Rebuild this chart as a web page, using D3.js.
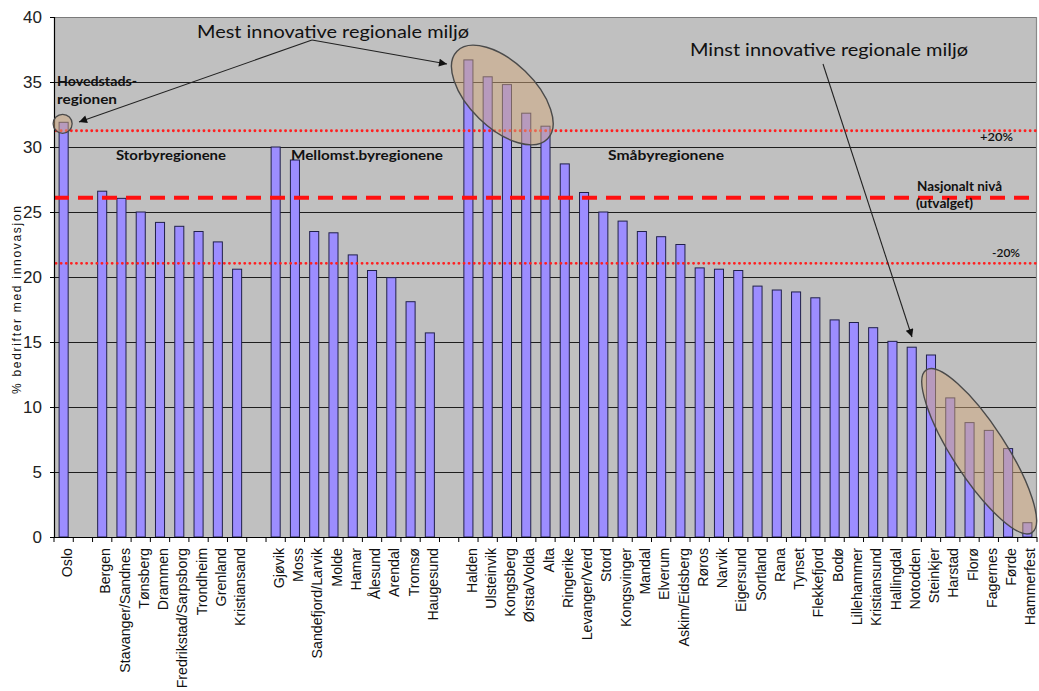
<!DOCTYPE html>
<html><head><meta charset="utf-8">
<script src="https://cdn.jsdelivr.net/npm/d3@7"></script>
<style>body{margin:0;background:#fff}svg{display:block}</style>
</head><body><svg id="c" width="1039" height="691"></svg>
<script>
// ---- DATA ----
const hovedstadNames = ["Oslo"];
const hovedstadValues = [31.9];
const storbyNames = ["Bergen","Stavanger/Sandnes","Tønsberg","Drammen","Fredrikstad/Sarpsborg","Trondheim","Grenland","Kristiansand"];
const storbyValues = [26.6,26.05,25.0,24.2,23.9,23.5,22.7,20.6];
const mellombyNames = ["Gjøvik","Moss","Sandefjord/Larvik","Molde","Hamar","Ålesund","Arendal","Tromsø","Haugesund"];
const mellombyValues = [30.0,29.0,23.5,23.4,21.7,20.5,19.95,18.1,15.7];
const smaabyNames = ["Halden","Ulsteinvik","Kongsberg","Ørsta/Volda","Alta","Ringerike","Levanger/Verd","Stord","Kongsvinger","Mandal","Elverum","Askim/Eidsberg","Røros","Narvik","Eigersund","Sortland","Rana","Tynset","Flekkefjord","Bodø","Lillehammer","Kristiansund","Hallingdal","Notodden","Steinkjer","Harstad","Florø","Fagernes","Førde","Hammerfest"];
const smaabyValues = [36.7,35.4,34.8,32.6,31.6,28.7,26.5,25.0,24.3,23.5,23.1,22.5,20.7,20.6,20.5,19.3,19.0,18.85,18.4,16.7,16.5,16.1,15.05,14.6,14.0,10.7,8.8,8.2,6.8,1.1];
const yTicks = [0,5,10,15,20,25,30,35,40];
const nationalLevel = 26.1;
const upperLevel = 31.25;   // +20%
const lowerLevel = 21.05;   // -20%
const yTitle = "% bedrifter med innovasjon";

// ---- build slots (with empty gap slots between groups) ----
const groups = [
  [hovedstadNames, hovedstadValues],
  [storbyNames, storbyValues],
  [mellombyNames, mellombyValues],
  [smaabyNames, smaabyValues]
];
const slots = [];
groups.forEach((g, gi) => {
  if (gi > 0) slots.push({key: "gap" + gi, label: "", value: null});
  g[0].forEach((n, i) => slots.push({key: n, label: n, value: g[1][i]}));
});

const svg = d3.select("#c");
const L = 54, R = 1037, B = 537, T = 17;
const x = d3.scaleBand().domain(slots.map(d => d.key)).range([L, R]).paddingInner(0.53).paddingOuter(0.265);
const y = d3.scaleLinear().domain([0, 40]).range([B, T]);
const xc = k => x(k) + x.bandwidth() / 2;

// plot background
svg.append("rect").attr("x", L).attr("y", y(40)).attr("width", R - L).attr("height", y(0) - y(40)).attr("fill", "#c0c0c0");
// gridlines
svg.append("g").selectAll("line").data(yTicks.filter(t => t > 0 && t < 40)).join("line")
  .attr("x1", L).attr("x2", R).attr("y1", d => Math.round(y(d)) + 0.5).attr("y2", d => Math.round(y(d)) + 0.5)
  .attr("stroke", "#1e1e1e").attr("stroke-width", 1);
// top & right border
svg.append("line").attr("x1", L).attr("x2", R).attr("y1", Math.round(y(40)) + 0.5).attr("y2", Math.round(y(40)) + 0.5).attr("stroke", "#7a7a7a").attr("stroke-width", 1.2);
svg.append("line").attr("x1", R - 0.5).attr("x2", R - 0.5).attr("y1", y(40)).attr("y2", y(0)).attr("stroke", "#8a8a8a").attr("stroke-width", 1.2);

// bars
svg.append("g").selectAll("rect").data(slots.filter(d => d.value !== null)).join("rect")
  .attr("x", d => x(d.key)).attr("width", x.bandwidth())
  .attr("y", d => y(d.value)).attr("height", d => y(0) - y(d.value))
  .attr("fill", "#9c8dff").attr("stroke", "#20204a").attr("stroke-width", 1);

// reference lines
svg.append("line").attr("x1", L).attr("x2", R).attr("y1", y(nationalLevel)).attr("y2", y(nationalLevel))
  .attr("stroke", "#ff1010").attr("stroke-width", 4).attr("stroke-dasharray", "15,9");
[upperLevel, lowerLevel].forEach(v => {
  svg.append("line").attr("x1", L + 2).attr("x2", R).attr("y1", y(v)).attr("y2", y(v))
    .attr("stroke", "#ff2020").attr("stroke-width", 2.8).attr("stroke-linecap", "round").attr("stroke-dasharray", "0.1,5");
});

// axes
const yAxis = d3.axisLeft(y).tickValues(yTicks).tickSize(4).tickPadding(8);
const gy = svg.append("g").attr("transform", `translate(${L},0)`).call(yAxis);
gy.select(".domain").attr("stroke", "#000").attr("stroke-width", 1.2);
gy.selectAll(".tick line").attr("stroke", "#000");
gy.selectAll(".tick text").attr("font-family", "'Liberation Sans Narrow','Arial Narrow','Liberation Sans',Arial,sans-serif")
  .attr("font-size", 17).attr("fill", "#222");

// x axis line and ticks at slot boundaries
svg.append("line").attr("x1", L).attr("x2", R).attr("y1", B + 0.5).attr("y2", B + 0.5).attr("stroke", "#000").attr("stroke-width", 1.2);
const step = x.step();
svg.append("g").selectAll("line").data(d3.range(slots.length + 1)).join("line")
  .attr("x1", i => L + i * step).attr("x2", i => L + i * step)
  .attr("y1", B).attr("y2", B + 5).attr("stroke", "#000");

// x labels
svg.append("g").selectAll("text").data(slots.filter(d => d.label)).join("text")
  .attr("transform", d => `translate(${xc(d.key) + 3},${B + 11}) rotate(-90)`)
  .attr("text-anchor", "end").attr("dy", "0.36em")
  .attr("font-family", "'Liberation Sans',Arial,sans-serif").attr("font-size", 14.2)
  .attr("fill", "#111")
  .text(d => d.label);

// y title
svg.append("text").attr("transform", `translate(17,300) rotate(-90)`)
  .attr("text-anchor", "middle").attr("dy", "0.35em")
  .attr("font-family", "'Liberation Sans',Arial,sans-serif").attr("font-size", 12)
  .attr("textLength", 188).attr("lengthAdjust", "spacing").attr("fill", "#111")
  .text(yTitle);

// ---- annotations ----
const defs = svg.append("defs");
defs.append("marker").attr("id", "ah").attr("viewBox", "0 0 10 10").attr("refX", 10).attr("refY", 5)
  .attr("markerWidth", 11).attr("markerHeight", 8).attr("markerUnits", "userSpaceOnUse").attr("orient", "auto")
  .append("path").attr("d", "M0,0 L10,5 L0,10 Z").attr("fill", "#111");

const ellFill = "rgba(210,168,124,0.5)", ellStroke = "#4a4a4a";
// Oslo circle
svg.append("circle").attr("cx", xc("Oslo") - 1).attr("cy", y(31.9) + 1.5).attr("r", 9.5)
  .attr("fill", ellFill).attr("stroke", ellStroke).attr("stroke-width", 1.3);
// top innovative ellipse
const e1x = (xc("Ulsteinvik") + xc("Kongsberg")) / 2 + 5, e1y = y(34);
svg.append("ellipse").attr("cx", 0).attr("cy", 0).attr("rx", 63).attr("ry", 33)
  .attr("transform", `translate(${e1x},${e1y}) rotate(44)`)
  .attr("fill", ellFill).attr("stroke", ellStroke).attr("stroke-width", 1.4);
// least innovative ellipse
const e2x = (xc("Florø") + xc("Fagernes")) / 2, e2y = y(6.6);
svg.append("ellipse").attr("cx", 0).attr("cy", 0).attr("rx", 97).attr("ry", 26.5)
  .attr("transform", `translate(${e2x},${e2y}) rotate(57)`)
  .attr("fill", ellFill).attr("stroke", ellStroke).attr("stroke-width", 1.4);

// arrows
const arrow = (x1, y1, x2, y2) => svg.append("line").attr("x1", x1).attr("y1", y1).attr("x2", x2).attr("y2", y2)
  .attr("stroke", "#222").attr("stroke-width", 1.1).attr("marker-end", "url(#ah)");
arrow(312, 40, 79, 122);
arrow(312, 40, 447, 64);
arrow(823, 64, 912, 337);

const cal = "Lato,'Open Sans','Noto Sans',sans-serif";
const txt = (s, xx, yy, size, weight, len, anchor) => {
  const t = svg.append("text").attr("x", xx).attr("y", yy).attr("font-family", cal)
    .attr("font-size", size).attr("font-weight", weight).attr("fill", "#111").text(s);
  if (len) t.attr("textLength", len).attr("lengthAdjust", "spacingAndGlyphs");
  if (anchor) t.attr("text-anchor", anchor);
  return t;
};
txt("Mest innovative regionale miljø", 197, 38, 18, 400, 272);
txt("Minst innovative regionale miljø", 690, 56, 18, 400, 278);
txt("Hovedstads-", 57, 86, 14, 700, 80);
txt("regionen", 57, 104, 14, 700, 60);
txt("Storbyregionene", 116, 160, 13.5, 700, 110);
txt("Mellomst.byregionene", 291, 160, 13.5, 700, 152);
txt("Småbyregionene", 608, 160, 13.5, 700, 116);
txt("+20%", 980, 141, 11.5, 600, 33);
txt("Nasjonalt nivå", 917, 191, 12.5, 700, 85);
txt("(utvalget)", 916, 208, 12.5, 700, 57);
txt("-20%", 992, 257, 11.5, 600, 28);
</script>
</body></html>
